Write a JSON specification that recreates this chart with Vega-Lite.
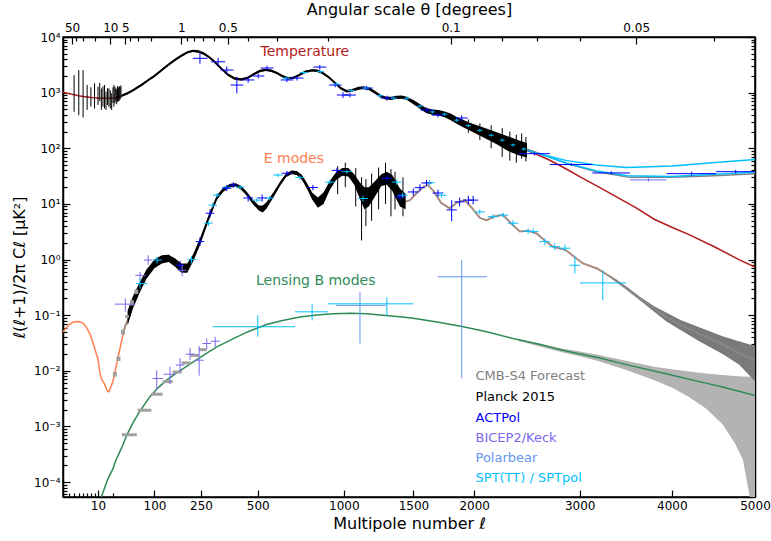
{
"$schema":"https://vega.github.io/schema/vega-lite/v6.json",
"width":692,"height":460,
"autosize":"none",
"padding":{"left":63,"top":37,"right":16,"bottom":44},
"config":{"font":"DejaVu Sans","view":{"stroke":"#000","strokeWidth":1.5},
"axis":{"grid":false,"labelFlush":false,"domainColor":"#000","domainWidth":1.5,"tickColor":"#000","tickWidth":1.2,"labelColor":"#000","titleColor":"#000","labelFont":"DejaVu Sans","titleFont":"DejaVu Sans","labelFontSize":12,"titleFontSize":16,"titleFontWeight":"normal"}},
"datasets":{
"theory":[
{"s":"TT","ell":2,"v":1020},{"s":"TT","ell":3,"v":960},{"s":"TT","ell":4,"v":920},{"s":"TT","ell":5,"v":880},{"s":"TT","ell":6,"v":850},{"s":"TT","ell":8,"v":820},{"s":"TT","ell":10,"v":800},{"s":"TT","ell":13,"v":790},{"s":"TT","ell":16,"v":790},{"s":"TT","ell":20,"v":800},{"s":"TT","ell":25,"v":830},{"s":"TT","ell":30,"v":880},{"s":"TT","ell":40,"v":980},{"s":"TT","ell":50,"v":1100},{"s":"TT","ell":60,"v":1250},{"s":"TT","ell":70,"v":1400},{"s":"TT","ell":85,"v":1700},{"s":"TT","ell":100,"v":2000},{"s":"TT","ell":120,"v":2550},{"s":"TT","ell":140,"v":3200},{"s":"TT","ell":160,"v":3900},{"s":"TT","ell":180,"v":4600},{"s":"TT","ell":200,"v":5300},{"s":"TT","ell":220,"v":5650},{"s":"TT","ell":240,"v":5500},{"s":"TT","ell":260,"v":5050},{"s":"TT","ell":280,"v":4400},{"s":"TT","ell":300,"v":3700},{"s":"TT","ell":330,"v":2750},{"s":"TT","ell":360,"v":2100},{"s":"TT","ell":390,"v":1800},{"s":"TT","ell":420,"v":1720},{"s":"TT","ell":450,"v":1850},{"s":"TT","ell":480,"v":2150},{"s":"TT","ell":510,"v":2450},{"s":"TT","ell":540,"v":2570},{"s":"TT","ell":570,"v":2480},{"s":"TT","ell":600,"v":2250},{"s":"TT","ell":630,"v":1980},{"s":"TT","ell":660,"v":1820},{"s":"TT","ell":690,"v":1850},{"s":"TT","ell":720,"v":2050},{"s":"TT","ell":760,"v":2380},{"s":"TT","ell":800,"v":2520},{"s":"TT","ell":830,"v":2480},{"s":"TT","ell":860,"v":2300},{"s":"TT","ell":900,"v":1920},{"s":"TT","ell":940,"v":1520},{"s":"TT","ell":980,"v":1200},{"s":"TT","ell":1020,"v":1060},{"s":"TT","ell":1060,"v":1110},{"s":"TT","ell":1100,"v":1200},{"s":"TT","ell":1130,"v":1230},{"s":"TT","ell":1170,"v":1180},{"s":"TT","ell":1210,"v":1030},{"s":"TT","ell":1250,"v":880},{"s":"TT","ell":1290,"v":800},{"s":"TT","ell":1330,"v":790},{"s":"TT","ell":1370,"v":820},{"s":"TT","ell":1410,"v":830},{"s":"TT","ell":1450,"v":790},{"s":"TT","ell":1500,"v":680},{"s":"TT","ell":1550,"v":570},{"s":"TT","ell":1600,"v":480},{"s":"TT","ell":1650,"v":450},{"s":"TT","ell":1700,"v":440},{"s":"TT","ell":1750,"v":410},{"s":"TT","ell":1800,"v":370},{"s":"TT","ell":1850,"v":320},{"s":"TT","ell":1900,"v":285},{"s":"TT","ell":1950,"v":255},{"s":"TT","ell":2000,"v":230},{"s":"TT","ell":2100,"v":190},{"s":"TT","ell":2200,"v":155},{"s":"TT","ell":2300,"v":125},{"s":"TT","ell":2400,"v":105},{"s":"TT","ell":2500,"v":88},{"s":"TT","ell":2600,"v":74},{"s":"TT","ell":2700,"v":61},{"s":"TT","ell":2800,"v":49},{"s":"TT","ell":2900,"v":39},{"s":"TT","ell":3000,"v":31},{"s":"TT","ell":3200,"v":20},{"s":"TT","ell":3400,"v":13},{"s":"TT","ell":3600,"v":8.5},{"s":"TT","ell":3800,"v":5.3},{"s":"TT","ell":4000,"v":3.8},{"s":"TT","ell":4200,"v":2.8},{"s":"TT","ell":4500,"v":1.7},{"s":"TT","ell":4800,"v":1.0},{"s":"TT","ell":5000,"v":0.73},
{"s":"EE","ell":2,"v":0.05},{"s":"EE","ell":3,"v":0.068},{"s":"EE","ell":4,"v":0.076},{"s":"EE","ell":5,"v":0.077},{"s":"EE","ell":6,"v":0.072},{"s":"EE","ell":7,"v":0.058},{"s":"EE","ell":8,"v":0.042},{"s":"EE","ell":9,"v":0.026},{"s":"EE","ell":10,"v":0.016},{"s":"EE","ell":11,"v":0.0095},{"s":"EE","ell":12,"v":0.0072},{"s":"EE","ell":14,"v":0.0058},{"s":"EE","ell":16,"v":0.0043},{"s":"EE","ell":17,"v":0.0042},{"s":"EE","ell":18,"v":0.0048},{"s":"EE","ell":20,"v":0.0065},{"s":"EE","ell":22,"v":0.0095},{"s":"EE","ell":25,"v":0.016},{"s":"EE","ell":28,"v":0.026},{"s":"EE","ell":32,"v":0.045},{"s":"EE","ell":36,"v":0.065},{"s":"EE","ell":44,"v":0.1},{"s":"EE","ell":51,"v":0.18},{"s":"EE","ell":65,"v":0.33},{"s":"EE","ell":75,"v":0.5},{"s":"EE","ell":88,"v":0.68},{"s":"EE","ell":100,"v":0.85},{"s":"EE","ell":115,"v":1.0},{"s":"EE","ell":130,"v":1.07},{"s":"EE","ell":144,"v":1.05},{"s":"EE","ell":165,"v":0.85},{"s":"EE","ell":185,"v":0.68},{"s":"EE","ell":200,"v":0.7},{"s":"EE","ell":215,"v":0.95},{"s":"EE","ell":230,"v":1.35},{"s":"EE","ell":246,"v":2.1},{"s":"EE","ell":262,"v":3.4},{"s":"EE","ell":279,"v":5.5},{"s":"EE","ell":296,"v":8.8},{"s":"EE","ell":313,"v":13},{"s":"EE","ell":340,"v":18},{"s":"EE","ell":370,"v":21.5},{"s":"EE","ell":395,"v":22},{"s":"EE","ell":420,"v":19.5},{"s":"EE","ell":445,"v":15.5},{"s":"EE","ell":475,"v":11},{"s":"EE","ell":505,"v":8.5},{"s":"EE","ell":525,"v":8.2},{"s":"EE","ell":545,"v":9.5},{"s":"EE","ell":580,"v":14.5},{"s":"EE","ell":620,"v":24},{"s":"EE","ell":650,"v":33},{"s":"EE","ell":680,"v":37},{"s":"EE","ell":710,"v":36},{"s":"EE","ell":740,"v":30},{"s":"EE","ell":770,"v":21},{"s":"EE","ell":800,"v":14},{"s":"EE","ell":835,"v":10.8},{"s":"EE","ell":870,"v":13},{"s":"EE","ell":910,"v":22},{"s":"EE","ell":950,"v":32},{"s":"EE","ell":990,"v":38},{"s":"EE","ell":1030,"v":37},{"s":"EE","ell":1070,"v":28},{"s":"EE","ell":1110,"v":17},{"s":"EE","ell":1140,"v":12.5},{"s":"EE","ell":1170,"v":12.5},{"s":"EE","ell":1210,"v":18},{"s":"EE","ell":1260,"v":27},{"s":"EE","ell":1300,"v":30},{"s":"EE","ell":1340,"v":25},{"s":"EE","ell":1397,"v":13.5},{"s":"EE","ell":1440,"v":11},{"s":"EE","ell":1474,"v":11.7},{"s":"EE","ell":1530,"v":16},{"s":"EE","ell":1580,"v":20.5},{"s":"EE","ell":1615,"v":21.8},{"s":"EE","ell":1660,"v":17},{"s":"EE","ell":1720,"v":10.5},{"s":"EE","ell":1792,"v":8.3},{"s":"EE","ell":1850,"v":10.5},{"s":"EE","ell":1919,"v":11.7},{"s":"EE","ell":1980,"v":8.5},{"s":"EE","ell":2050,"v":5.6},{"s":"EE","ell":2109,"v":5.1},{"s":"EE","ell":2180,"v":6},{"s":"EE","ell":2258,"v":6.3},{"s":"EE","ell":2330,"v":4.5},{"s":"EE","ell":2413,"v":3.2},{"s":"EE","ell":2490,"v":3.3},{"s":"EE","ell":2572,"v":2.95},{"s":"EE","ell":2650,"v":2.2},{"s":"EE","ell":2733,"v":1.7},{"s":"EE","ell":2860,"v":1.48},{"s":"EE","ell":2950,"v":1.1},{"s":"EE","ell":3035,"v":0.85},{"s":"EE","ell":3180,"v":0.69},{"s":"EE","ell":3385,"v":0.42},{"s":"EE","ell":3500,"v":0.3},{"s":"EE","ell":3640,"v":0.2},{"s":"EE","ell":3800,"v":0.13},{"s":"EE","ell":3935,"v":0.093},{"s":"EE","ell":4100,"v":0.068},{"s":"EE","ell":4320,"v":0.046},{"s":"EE","ell":4600,"v":0.03},{"s":"EE","ell":4800,"v":0.021},{"s":"EE","ell":5000,"v":0.0155},
{"s":"BB","ell":10,"v":0.000038},{"s":"BB","ell":13,"v":0.000065},{"s":"BB","ell":16,"v":0.00011},{"s":"BB","ell":20,"v":0.000175},{"s":"BB","ell":23,"v":0.000245},{"s":"BB","ell":30,"v":0.00042},{"s":"BB","ell":40,"v":0.00075},{"s":"BB","ell":51,"v":0.0012},{"s":"BB","ell":65,"v":0.0019},{"s":"BB","ell":88,"v":0.0034},{"s":"BB","ell":110,"v":0.005},{"s":"BB","ell":134,"v":0.0068},{"s":"BB","ell":160,"v":0.0088},{"s":"BB","ell":186,"v":0.011},{"s":"BB","ell":215,"v":0.0138},{"s":"BB","ell":246,"v":0.0172},{"s":"BB","ell":280,"v":0.022},{"s":"BB","ell":313,"v":0.027},{"s":"BB","ell":384,"v":0.038},{"s":"BB","ell":450,"v":0.05},{"s":"BB","ell":545,"v":0.068},{"s":"BB","ell":630,"v":0.08},{"s":"BB","ell":727,"v":0.093},{"s":"BB","ell":830,"v":0.101},{"s":"BB","ell":930,"v":0.106},{"s":"BB","ell":1050,"v":0.108},{"s":"BB","ell":1155,"v":0.106},{"s":"BB","ell":1270,"v":0.1},{"s":"BB","ell":1397,"v":0.094},{"s":"BB","ell":1499,"v":0.088},{"s":"BB","ell":1700,"v":0.075},{"s":"BB","ell":1906,"v":0.062},{"s":"BB","ell":2100,"v":0.051},{"s":"BB","ell":2349,"v":0.038},{"s":"BB","ell":2600,"v":0.03},{"s":"BB","ell":2830,"v":0.0234},{"s":"BB","ell":3000,"v":0.02},{"s":"BB","ell":3200,"v":0.0172},{"s":"BB","ell":3500,"v":0.0128},{"s":"BB","ell":3935,"v":0.0089},{"s":"BB","ell":4320,"v":0.0064},{"s":"BB","ell":4600,"v":0.0051},{"s":"BB","ell":5000,"v":0.0036}
],
"fg":[
{"s":"S4","id":"a","ell":2200,"v":155},{"s":"S4","id":"a","ell":2300,"v":128},{"s":"S4","id":"a","ell":2400,"v":108},{"s":"S4","id":"a","ell":2500,"v":93},{"s":"S4","id":"a","ell":2600,"v":81},{"s":"S4","id":"a","ell":2870,"v":53},{"s":"S4","id":"a","ell":3175,"v":38},{"s":"S4","id":"a","ell":3527,"v":30},{"s":"S4","id":"a","ell":4007,"v":30},{"s":"S4","id":"a","ell":4500,"v":32},{"s":"S4","id":"a","ell":5000,"v":35},
{"s":"SPT","id":"b","ell":2200,"v":160},{"s":"SPT","id":"b","ell":2300,"v":128},{"s":"SPT","id":"b","ell":2530,"v":86},{"s":"SPT","id":"b","ell":2870,"v":60},{"s":"SPT","id":"b","ell":3175,"v":50},{"s":"SPT","id":"b","ell":3490,"v":45},{"s":"SPT","id":"b","ell":4007,"v":48},{"s":"SPT","id":"b","ell":4476,"v":55},{"s":"SPT","id":"b","ell":5000,"v":63},
{"s":"SPT","id":"c","ell":2600,"v":80},{"s":"SPT","id":"c","ell":2870,"v":54},{"s":"SPT","id":"c","ell":3175,"v":39},{"s":"SPT","id":"c","ell":3500,"v":32},{"s":"SPT","id":"c","ell":4000,"v":31},{"s":"SPT","id":"c","ell":4500,"v":34},{"s":"SPT","id":"c","ell":5000,"v":37}
],
"s4bb":[
{"ell":2400,"lo":0.0345,"hi":0.0375},{"ell":2800,"lo":0.022,"hi":0.0255},{"ell":3000,"lo":0.0182,"hi":0.0222},{"ell":3200,"lo":0.0148,"hi":0.0193},{"ell":3500,"lo":0.0102,"hi":0.015},{"ell":3800,"lo":0.0068,"hi":0.0118},{"ell":4000,"lo":0.005,"hi":0.0107},{"ell":4200,"lo":0.0034,"hi":0.0097},{"ell":4400,"lo":0.0021,"hi":0.009},{"ell":4600,"lo":0.0011,"hi":0.0084},{"ell":4750,"lo":0.0005,"hi":0.0081},{"ell":4850,"lo":0.00025,"hi":0.0079},{"ell":4950,"lo":0.00004,"hi":0.0078},{"ell":5000,"lo":0.00004,"hi":0.0078}
],
"s4ee":[
{"ell":3300,"lo":0.5,"hi":0.53},{"ell":3500,"lo":0.28,"hi":0.32},{"ell":3640,"lo":0.185,"hi":0.215},{"ell":3800,"lo":0.115,"hi":0.145},{"ell":3935,"lo":0.078,"hi":0.112},{"ell":4100,"lo":0.054,"hi":0.082},{"ell":4320,"lo":0.034,"hi":0.061},{"ell":4600,"lo":0.02,"hi":0.042},{"ell":4800,"lo":0.013,"hi":0.034},{"ell":5000,"lo":0.0065,"hi":0.028}
],
"planckband":[
{"spec":"TT","ell":30,"lo":840,"hi":925},{"spec":"TT","ell":40,"lo":930,"hi":1030},{"spec":"TT","ell":50,"lo":1045,"hi":1155},{"spec":"TT","ell":60,"lo":1190,"hi":1310},{"spec":"TT","ell":70,"lo":1330,"hi":1470},{"spec":"TT","ell":85,"lo":1615,"hi":1785},{"spec":"TT","ell":100,"lo":1900,"hi":2100},{"spec":"TT","ell":120,"lo":2420,"hi":2680},{"spec":"TT","ell":140,"lo":3040,"hi":3360},{"spec":"TT","ell":160,"lo":3700,"hi":4100},{"spec":"TT","ell":180,"lo":4370,"hi":4830},{"spec":"TT","ell":200,"lo":5035,"hi":5565},{"spec":"TT","ell":220,"lo":5370,"hi":5930},{"spec":"TT","ell":240,"lo":5225,"hi":5775},{"spec":"TT","ell":260,"lo":4800,"hi":5300},{"spec":"TT","ell":280,"lo":4180,"hi":4620},{"spec":"TT","ell":300,"lo":3515,"hi":3885},{"spec":"TT","ell":330,"lo":2610,"hi":2890},{"spec":"TT","ell":360,"lo":1995,"hi":2205},{"spec":"TT","ell":390,"lo":1710,"hi":1890},{"spec":"TT","ell":420,"lo":1635,"hi":1805},{"spec":"TT","ell":450,"lo":1760,"hi":1940},{"spec":"TT","ell":480,"lo":2040,"hi":2260},{"spec":"TT","ell":510,"lo":2330,"hi":2570},{"spec":"TT","ell":540,"lo":2440,"hi":2700},{"spec":"TT","ell":570,"lo":2355,"hi":2605},{"spec":"TT","ell":600,"lo":2140,"hi":2360},{"spec":"TT","ell":630,"lo":1880,"hi":2080},{"spec":"TT","ell":660,"lo":1730,"hi":1910},{"spec":"TT","ell":690,"lo":1760,"hi":1940},{"spec":"TT","ell":720,"lo":1950,"hi":2150},{"spec":"TT","ell":760,"lo":2260,"hi":2500},{"spec":"TT","ell":800,"lo":2395,"hi":2645},{"spec":"TT","ell":830,"lo":2355,"hi":2605},{"spec":"TT","ell":860,"lo":2185,"hi":2415},{"spec":"TT","ell":900,"lo":1825,"hi":2015},{"spec":"TT","ell":940,"lo":1445,"hi":1595},{"spec":"TT","ell":980,"lo":1140,"hi":1260},{"spec":"TT","ell":1020,"lo":1005,"hi":1115},{"spec":"TT","ell":1060,"lo":1045,"hi":1175},{"spec":"TT","ell":1100,"lo":1130,"hi":1270},{"spec":"TT","ell":1130,"lo":1155,"hi":1305},{"spec":"TT","ell":1170,"lo":1110,"hi":1250},{"spec":"TT","ell":1210,"lo":965,"hi":1095},{"spec":"TT","ell":1250,"lo":825,"hi":935},{"spec":"TT","ell":1290,"lo":750,"hi":850},{"spec":"TT","ell":1330,"lo":740,"hi":840},{"spec":"TT","ell":1370,"lo":765,"hi":875},{"spec":"TT","ell":1410,"lo":775,"hi":885},{"spec":"TT","ell":1450,"lo":735,"hi":845},{"spec":"TT","ell":1500,"lo":620,"hi":740},{"spec":"TT","ell":1550,"lo":515,"hi":625},{"spec":"TT","ell":1600,"lo":430,"hi":530},{"spec":"TT","ell":1650,"lo":400,"hi":500},{"spec":"TT","ell":1700,"lo":390,"hi":490},{"spec":"TT","ell":1750,"lo":360,"hi":460},{"spec":"TT","ell":1800,"lo":320,"hi":420},{"spec":"TT","ell":1850,"lo":275,"hi":365},{"spec":"TT","ell":1900,"lo":240,"hi":330},{"spec":"TT","ell":1950,"lo":215,"hi":295},{"spec":"TT","ell":2000,"lo":190,"hi":270},{"spec":"TT","ell":2100,"lo":150,"hi":230},{"spec":"TT","ell":2200,"lo":118,"hi":195},{"spec":"TT","ell":2300,"lo":90,"hi":165},{"spec":"TT","ell":2400,"lo":75,"hi":140},{"spec":"TT","ell":2480,"lo":68,"hi":125},
{"spec":"EE","ell":40,"lo":0.065,"hi":0.12},{"spec":"EE","ell":50,"lo":0.13,"hi":0.22},{"spec":"EE","ell":65,"lo":0.26,"hi":0.4},{"spec":"EE","ell":80,"lo":0.45,"hi":0.66},{"spec":"EE","ell":100,"lo":0.7,"hi":1.0},{"spec":"EE","ell":120,"lo":0.85,"hi":1.2},{"spec":"EE","ell":140,"lo":0.9,"hi":1.22},{"spec":"EE","ell":160,"lo":0.74,"hi":1.04},{"spec":"EE","ell":180,"lo":0.58,"hi":0.85},{"spec":"EE","ell":200,"lo":0.58,"hi":0.85},{"spec":"EE","ell":220,"lo":0.9,"hi":1.22},{"spec":"EE","ell":246,"lo":1.8,"hi":2.4},{"spec":"EE","ell":279,"lo":4.9,"hi":6.2},{"spec":"EE","ell":313,"lo":11.8,"hi":14.3},{"spec":"EE","ell":340,"lo":16.5,"hi":19.5},{"spec":"EE","ell":370,"lo":20,"hi":23},{"spec":"EE","ell":395,"lo":20.5,"hi":23.5},{"spec":"EE","ell":420,"lo":18,"hi":21},{"spec":"EE","ell":445,"lo":14.2,"hi":16.8},{"spec":"EE","ell":475,"lo":10,"hi":12},{"spec":"EE","ell":505,"lo":7.6,"hi":9.4},{"spec":"EE","ell":525,"lo":7,"hi":9.4},{"spec":"EE","ell":545,"lo":8.3,"hi":10.8},{"spec":"EE","ell":580,"lo":13,"hi":16},{"spec":"EE","ell":620,"lo":22,"hi":26},{"spec":"EE","ell":650,"lo":30.5,"hi":35.5},{"spec":"EE","ell":680,"lo":34,"hi":40},{"spec":"EE","ell":710,"lo":33,"hi":39},{"spec":"EE","ell":740,"lo":27,"hi":33},{"spec":"EE","ell":770,"lo":18.5,"hi":23.5},{"spec":"EE","ell":800,"lo":12,"hi":16},{"spec":"EE","ell":835,"lo":8.5,"hi":13},{"spec":"EE","ell":870,"lo":10,"hi":16},{"spec":"EE","ell":910,"lo":18,"hi":26},{"spec":"EE","ell":950,"lo":27,"hi":37},{"spec":"EE","ell":990,"lo":32,"hi":44},{"spec":"EE","ell":1030,"lo":31,"hi":44},{"spec":"EE","ell":1070,"lo":22,"hi":34},{"spec":"EE","ell":1110,"lo":12,"hi":24},{"spec":"EE","ell":1140,"lo":8,"hi":20},{"spec":"EE","ell":1170,"lo":9,"hi":20},{"spec":"EE","ell":1210,"lo":13,"hi":25},{"spec":"EE","ell":1260,"lo":21,"hi":34},{"spec":"EE","ell":1300,"lo":22,"hi":38},{"spec":"EE","ell":1340,"lo":17,"hi":33},{"spec":"EE","ell":1397,"lo":9,"hi":19},{"spec":"EE","ell":1440,"lo":8,"hi":15}
],
"planckbars":[
{"ell":4,"lo":454,"hi":2074},{"ell":5,"lo":395,"hi":2547},{"ell":6,"lo":360,"hi":2547},{"ell":7,"lo":490,"hi":1370},{"ell":8,"lo":560,"hi":1250},{"ell":9,"lo":520,"hi":1470},{"ell":10,"lo":600,"hi":1280},{"ell":11,"lo":700,"hi":1500},{"ell":12,"lo":490,"hi":1190},{"ell":13,"lo":560,"hi":1300},{"ell":14,"lo":520,"hi":1370},{"ell":15,"lo":490,"hi":1040},{"ell":16,"lo":600,"hi":1200},{"ell":17,"lo":560,"hi":1190},{"ell":18,"lo":520,"hi":1100},{"ell":19,"lo":490,"hi":970},{"ell":20,"lo":650,"hi":1250},{"ell":21,"lo":560,"hi":1370},{"ell":22,"lo":640,"hi":1280},{"ell":23,"lo":700,"hi":1200},{"ell":24,"lo":620,"hi":1150},{"ell":25,"lo":680,"hi":1300},{"ell":26,"lo":700,"hi":1250},{"ell":27,"lo":720,"hi":1300},{"ell":28,"lo":750,"hi":1280},{"ell":29,"lo":800,"hi":1350},
{"ell":1950,"lo":190,"hi":330},{"ell":2050,"lo":140,"hi":280},{"ell":2150,"lo":100,"hi":260},{"ell":2250,"lo":70,"hi":230},{"ell":2320,"lo":60,"hi":200},{"ell":2380,"lo":55,"hi":175},{"ell":2430,"lo":65,"hi":185},{"ell":2470,"lo":58,"hi":160},
{"ell":960,"lo":15,"hi":48},{"ell":1010,"lo":20,"hi":55},{"ell":1080,"lo":9,"hi":44},{"ell":1120,"lo":2.2,"hi":30},{"ell":1150,"lo":4,"hi":28},{"ell":1190,"lo":5,"hi":35},{"ell":1240,"lo":8,"hi":45},{"ell":1290,"lo":10,"hi":55},{"ell":1330,"lo":6,"hi":42},{"ell":1360,"lo":8,"hi":38},{"ell":1420,"lo":6,"hi":30}
],
"s4lowee":[
{"ell":22,"lo":0.0079,"hi":0.0095},{"ell":26,"lo":0.015,"hi":0.018},{"ell":32,"lo":0.045,"hi":0.055},{"ell":39,"lo":0.09,"hi":0.1},{"ell":48,"lo":0.15,"hi":0.186},{"ell":57,"lo":0.24,"hi":0.29}
],
"s4lowbb":[
{"elo":30,"ehi":58,"v":0.00071},{"elo":60,"ehi":92,"v":0.00196},{"elo":92,"ehi":122,"v":0.0038},{"elo":123,"ehi":152,"v":0.0064},{"elo":152,"ehi":181,"v":0.0095},{"elo":181,"ehi":212,"v":0.0139},{"elo":212,"ehi":242,"v":0.019},{"elo":242,"ehi":272,"v":0.024}
],
"xp":[
{"s":"ACTPol","ell":246,"v":4140,"elo":220,"ehi":275,"vlo":3300,"vhi":5150},
{"s":"ACTPol","ell":318,"v":3590,"elo":290,"ehi":348,"vlo":3000,"vhi":4200},
{"s":"ACTPol","ell":355,"v":2550,"elo":328,"ehi":385,"vlo":2200,"vhi":2950},
{"s":"ACTPol","ell":400,"v":1370,"elo":372,"ehi":430,"vlo":970,"vhi":1930},
{"s":"ACTPol","ell":453,"v":1690,"elo":425,"ehi":483,"vlo":1500,"vhi":1900},
{"s":"ACTPol","ell":502,"v":1990,"elo":472,"ehi":533,"vlo":1800,"vhi":2200},
{"s":"ACTPol","ell":547,"v":2770,"elo":515,"ehi":580,"vlo":2500,"vhi":3050},
{"s":"ACTPol","ell":654,"v":1690,"elo":620,"ehi":690,"vlo":1550,"vhi":1850},
{"s":"ACTPol","ell":711,"v":1830,"elo":675,"ehi":748,"vlo":1650,"vhi":2000},
{"s":"ACTPol","ell":847,"v":2880,"elo":808,"ehi":888,"vlo":2600,"vhi":3150},
{"s":"ACTPol","ell":944,"v":1370,"elo":905,"ehi":985,"vlo":1250,"vhi":1500},
{"s":"ACTPol","ell":995,"v":906,"elo":955,"ehi":1035,"vlo":800,"vhi":1020},
{"s":"ACTPol","ell":1041,"v":906,"elo":1000,"ehi":1082,"vlo":820,"vhi":1000},
{"s":"ACTPol","ell":1155,"v":1210,"elo":1112,"ehi":1198,"vlo":1100,"vhi":1330},
{"s":"ACTPol","ell":1300,"v":800,"elo":1255,"ehi":1345,"vlo":720,"vhi":880},
{"s":"ACTPol","ell":1605,"v":486,"elo":1555,"ehi":1655,"vlo":440,"vhi":540},
{"s":"ACTPol","ell":1695,"v":395,"elo":1645,"ehi":1745,"vlo":360,"vhi":430},
{"s":"ACTPol","ell":1893,"v":350,"elo":1843,"ehi":1943,"vlo":310,"vhi":390},
{"s":"ACTPol","ell":2550,"v":80,"elo":2400,"ehi":2700,"vlo":74,"vhi":86},
{"s":"ACTPol","ell":2915,"v":51,"elo":2700,"ehi":3130,"vlo":48,"vhi":54},
{"s":"ACTPol","ell":3330,"v":36,"elo":3130,"ehi":3530,"vlo":34,"vhi":38.5},
{"s":"BICEP","ell":3735,"v":27,"elo":3530,"ehi":3940,"vlo":25,"vhi":29},
{"s":"ACTPol","ell":4230,"v":35,"elo":3940,"ehi":4520,"vlo":32,"vhi":38},
{"s":"ACTPol","ell":4760,"v":38,"elo":4520,"ehi":5000,"vlo":35,"vhi":41},
{"s":"SPT","ell":650,"v":1830,"elo":628,"ehi":672,"vlo":1720,"vhi":1940},
{"s":"SPT","ell":750,"v":2300,"elo":728,"ehi":772,"vlo":2160,"vhi":2440},
{"s":"SPT","ell":850,"v":2380,"elo":828,"ehi":872,"vlo":2240,"vhi":2520},
{"s":"SPT","ell":950,"v":1420,"elo":928,"ehi":972,"vlo":1340,"vhi":1500},
{"s":"SPT","ell":1050,"v":1090,"elo":1028,"ehi":1072,"vlo":1030,"vhi":1150},
{"s":"SPT","ell":1150,"v":1210,"elo":1128,"ehi":1172,"vlo":1140,"vhi":1280},
{"s":"SPT","ell":1250,"v":880,"elo":1228,"ehi":1272,"vlo":830,"vhi":930},
{"s":"SPT","ell":1350,"v":800,"elo":1328,"ehi":1372,"vlo":750,"vhi":850},
{"s":"SPT","ell":1450,"v":790,"elo":1428,"ehi":1472,"vlo":740,"vhi":840},
{"s":"SPT","ell":1550,"v":570,"elo":1528,"ehi":1572,"vlo":535,"vhi":605},
{"s":"SPT","ell":1650,"v":450,"elo":1628,"ehi":1672,"vlo":423,"vhi":477},
{"s":"SPT","ell":1750,"v":410,"elo":1728,"ehi":1772,"vlo":385,"vhi":435},
{"s":"SPT","ell":1850,"v":320,"elo":1828,"ehi":1872,"vlo":300,"vhi":340},
{"s":"SPT","ell":1950,"v":255,"elo":1928,"ehi":1972,"vlo":240,"vhi":270},
{"s":"SPT","ell":2050,"v":210,"elo":2028,"ehi":2072,"vlo":197,"vhi":223},
{"s":"SPT","ell":2150,"v":172,"elo":2128,"ehi":2172,"vlo":162,"vhi":182},
{"s":"SPT","ell":2250,"v":140,"elo":2228,"ehi":2272,"vlo":131,"vhi":149},
{"s":"SPT","ell":2350,"v":115,"elo":2328,"ehi":2372,"vlo":108,"vhi":122},
{"s":"SPT","ell":2450,"v":97,"elo":2428,"ehi":2472,"vlo":91,"vhi":103},
{"s":"BICEP","ell":36,"v":0.158,"elo":22,"ehi":55,"vlo":0.115,"vhi":0.2},
{"s":"BICEP","ell":65,"v":0.52,"elo":55,"ehi":78,"vlo":0.43,"vhi":0.6},
{"s":"BICEP","ell":84,"v":0.98,"elo":74,"ehi":95,"vlo":0.8,"vhi":1.2},
{"s":"BICEP","ell":183,"v":0.64,"elo":168,"ehi":198,"vlo":0.5,"vhi":0.8},
{"s":"SPT","ell":65,"v":0.37,"elo":56,"ehi":82,"vlo":0.3,"vhi":0.45},
{"s":"SPT","ell":107,"v":0.98,"elo":96,"ehi":120,"vlo":0.85,"vhi":1.12},
{"s":"SPT","ell":215,"v":1.0,"elo":200,"ehi":232,"vlo":0.85,"vhi":1.15},
{"s":"SPT","ell":279,"v":4.5,"elo":262,"ehi":296,"vlo":4.0,"vhi":5.0},
{"s":"SPT","ell":296,"v":9.5,"elo":280,"ehi":313,"vlo":8.6,"vhi":10.5},
{"s":"SPT","ell":313,"v":14.3,"elo":297,"ehi":330,"vlo":13,"vhi":15.7},
{"s":"SPT","ell":354,"v":20,"elo":335,"ehi":374,"vlo":18.5,"vhi":21.5},
{"s":"SPT","ell":415,"v":20,"elo":395,"ehi":436,"vlo":18.5,"vhi":21.5},
{"s":"SPT","ell":495,"v":11.7,"elo":472,"ehi":518,"vlo":10.7,"vhi":12.7},
{"s":"SPT","ell":561,"v":12.8,"elo":537,"ehi":585,"vlo":11.7,"vhi":14},
{"s":"SPT","ell":605,"v":33,"elo":580,"ehi":630,"vlo":30.5,"vhi":35.5},
{"s":"SPT","ell":727,"v":30,"elo":700,"ehi":755,"vlo":27.5,"vhi":32.5},
{"s":"SPT","ell":910,"v":24.6,"elo":880,"ehi":940,"vlo":22.5,"vhi":27},
{"s":"SPT","ell":1020,"v":38,"elo":988,"ehi":1052,"vlo":35,"vhi":41},
{"s":"SPT","ell":1130,"v":12.5,"elo":1095,"ehi":1165,"vlo":11,"vhi":14},
{"s":"SPT","ell":1373,"v":24.6,"elo":1335,"ehi":1410,"vlo":22,"vhi":27.5},
{"s":"SPT","ell":1418,"v":14.3,"elo":1380,"ehi":1456,"vlo":12.8,"vhi":16},
{"s":"SPT","ell":1628,"v":24,"elo":1588,"ehi":1668,"vlo":21.5,"vhi":26.5},
{"s":"SPT","ell":1725,"v":14.3,"elo":1685,"ehi":1765,"vlo":12.8,"vhi":16},
{"s":"SPT","ell":2049,"v":7.2,"elo":2005,"ehi":2093,"vlo":6.5,"vhi":8},
{"s":"SPT","ell":2166,"v":5.9,"elo":2120,"ehi":2212,"vlo":5.3,"vhi":6.6},
{"s":"SPT","ell":2258,"v":6.3,"elo":2212,"ehi":2304,"vlo":5.7,"vhi":7},
{"s":"SPT","ell":2349,"v":4.5,"elo":2300,"ehi":2398,"vlo":4.0,"vhi":5.1},
{"s":"SPT","ell":2491,"v":3.2,"elo":2440,"ehi":2540,"vlo":2.9,"vhi":3.6},
{"s":"SPT","ell":2540,"v":3.2,"elo":2490,"ehi":2590,"vlo":2.9,"vhi":3.6},
{"s":"SPT","ell":2652,"v":2.1,"elo":2600,"ehi":2704,"vlo":1.8,"vhi":2.4},
{"s":"SPT","ell":2748,"v":1.7,"elo":2694,"ehi":2802,"vlo":1.5,"vhi":1.95},
{"s":"SPT","ell":2851,"v":1.6,"elo":2796,"ehi":2906,"vlo":1.4,"vhi":1.85},
{"s":"SPT","ell":2951,"v":0.79,"elo":2895,"ehi":3007,"vlo":0.56,"vhi":1.13},
{"s":"SPT","ell":3240,"v":0.38,"elo":3003,"ehi":3490,"vlo":0.186,"vhi":0.64},
{"s":"ACTPol","ell":176,"v":0.79,"elo":163,"ehi":190,"vlo":0.65,"vhi":0.95},
{"s":"ACTPol","ell":246,"v":2.1,"elo":230,"ehi":262,"vlo":1.75,"vhi":2.5},
{"s":"ACTPol","ell":285,"v":6.8,"elo":268,"ehi":302,"vlo":5.8,"vhi":8},
{"s":"ACTPol","ell":355,"v":19.2,"elo":335,"ehi":375,"vlo":17,"vhi":21.5},
{"s":"ACTPol","ell":384,"v":21.8,"elo":364,"ehi":404,"vlo":19.5,"vhi":24.5},
{"s":"ACTPol","ell":453,"v":12.8,"elo":430,"ehi":476,"vlo":11,"vhi":14.8},
{"s":"ACTPol","ell":522,"v":12.8,"elo":498,"ehi":546,"vlo":11,"vhi":14.8},
{"s":"ACTPol","ell":654,"v":35.6,"elo":625,"ehi":683,"vlo":32,"vhi":39.5},
{"s":"ACTPol","ell":805,"v":19.7,"elo":775,"ehi":835,"vlo":17.5,"vhi":22},
{"s":"ACTPol","ell":955,"v":40,"elo":922,"ehi":988,"vlo":36,"vhi":44},
{"s":"ACTPol","ell":1300,"v":29,"elo":1262,"ehi":1338,"vlo":25.5,"vhi":33},
{"s":"ACTPol","ell":1397,"v":13.4,"elo":1357,"ehi":1437,"vlo":11.5,"vhi":15.5},
{"s":"ACTPol","ell":1499,"v":16.4,"elo":1458,"ehi":1540,"vlo":14,"vhi":19},
{"s":"ACTPol","ell":1551,"v":19.6,"elo":1510,"ehi":1592,"vlo":17,"vhi":22.5},
{"s":"ACTPol","ell":1603,"v":23.8,"elo":1562,"ehi":1644,"vlo":21,"vhi":27},
{"s":"ACTPol","ell":1695,"v":15.7,"elo":1652,"ehi":1738,"vlo":13.5,"vhi":18},
{"s":"ACTPol","ell":1808,"v":7.8,"elo":1765,"ehi":1851,"vlo":4.9,"vhi":11.7},
{"s":"ACTPol","ell":1875,"v":10.9,"elo":1832,"ehi":1918,"vlo":9,"vhi":13},
{"s":"ACTPol","ell":1950,"v":11.7,"elo":1905,"ehi":1995,"vlo":9.8,"vhi":14},
{"s":"ACTPol","ell":1991,"v":11.7,"elo":1946,"ehi":2036,"vlo":9.8,"vhi":14},
{"s":"BICEP","ell":106,"v":0.0073,"elo":95,"ehi":123,"vlo":0.0045,"vhi":0.0102},
{"s":"BICEP","ell":144,"v":0.0087,"elo":125,"ehi":160,"vlo":0.0058,"vhi":0.0118},
{"s":"BICEP","ell":176,"v":0.0127,"elo":162,"ehi":190,"vlo":0.0094,"vhi":0.0168},
{"s":"BICEP","ell":210,"v":0.0199,"elo":195,"ehi":226,"vlo":0.0155,"vhi":0.026},
{"s":"BICEP","ell":243,"v":0.0155,"elo":226,"ehi":260,"vlo":0.0082,"vhi":0.028},
{"s":"BICEP","ell":272,"v":0.031,"elo":255,"ehi":290,"vlo":0.024,"vhi":0.038},
{"s":"BICEP","ell":306,"v":0.034,"elo":288,"ehi":324,"vlo":0.027,"vhi":0.041},
{"s":"Polarbear","ell":1893,"v":0.49,"elo":1695,"ehi":2112,"vlo":0.0074,"vhi":0.98},
{"s":"Polarbear","ell":1109,"v":0.15,"elo":950,"ehi":1290,"vlo":0.031,"vhi":0.26},
{"s":"SPT","ell":500,"v":0.062,"elo":296,"ehi":700,"vlo":0.041,"vhi":0.1},
{"s":"SPT","ell":800,"v":0.115,"elo":700,"ehi":897,"vlo":0.08,"vhi":0.16},
{"s":"SPT","ell":1300,"v":0.16,"elo":897,"ehi":1499,"vlo":0.1,"vhi":0.21}
],
"ann":[
{"s":"TT","t":"Temperature","ell":757,"v":5370},
{"s":"EE","t":"E modes","ell":693,"v":64},
{"s":"BB","t":"Lensing B modes","ell":822,"v":0.41}
],
"leg":[
{"s":"S4","t":"CMB-S4 Forecast","ell":2012,"v":0.008},
{"s":"Planck","t":"Planck 2015","ell":2012,"v":0.00335},
{"s":"ACTPol","t":"ACTPol","ell":2012,"v":0.0014},
{"s":"BICEP","t":"BICEP2/Keck","ell":2012,"v":0.000613},
{"s":"Polarbear","t":"Polarbear","ell":2012,"v":0.000268},
{"s":"SPT","t":"SPT(TT) / SPTpol","ell":2012,"v":0.000117}
]
},
"resolve":{"axis":{"x":"independent","y":"independent"}},
"layer":[
{"data":{"name":"s4bb"},"mark":{"type":"area","color":"#b3b3b3","clip":true},
"encoding":{"x":{"field":"ell","type":"quantitative","axis":null,"scale":{"type":"pow","exponent":0.6,"domain":[2,10,20,30,5000],"range":[0,35,50,58.8,692],"nice":false,"zero":false}},
"y":{"field":"lo","type":"quantitative","axis":null,"scale":{"type":"log","domain":[0.000054,10000],"nice":false}},"y2":{"field":"hi"}}},
{"data":{"name":"theory"},"mark":{"type":"line","strokeWidth":1.5,"clip":true},
"encoding":{"x":{"field":"ell","type":"quantitative","axis":{"orient":"bottom","title":"Multipole number ℓ","values":[3,4,5,6,7,8,9,10,20,100,250,500,1000,1500,2000,3000,4000,5000],"format":"d","labelExpr":"indexof([10,100,250,500,1000,1500,2000,3000,4000,5000], datum.value) >= 0 ? datum.label : ''","tickSize":{"condition":{"test":"indexof([10,100,250,500,1000,1500,2000,3000,4000,5000], datum.value) >= 0","value":-7},"value":-4},"labelPadding":10,"titlePadding":4}},
"y":{"field":"v","type":"quantitative","axis":{"orient":"left","title":"ℓ(ℓ+1)/2π Cℓ [μK²]","values":[0.00006,0.00007,0.00008,0.00009,0.0001,0.0002,0.0003,0.0004,0.0005,0.0006,0.0007,0.0008,0.0009,0.001,0.002,0.003,0.004,0.005,0.006,0.007,0.008,0.009,0.01,0.02,0.03,0.04,0.05,0.06,0.07,0.08,0.09,0.1,0.2,0.3,0.4,0.5,0.6,0.7,0.8,0.9,1,2,3,4,5,6,7,8,9,10,20,30,40,50,60,70,80,90,100,200,300,400,500,600,700,800,900,1000,2000,3000,4000,5000,6000,7000,8000,9000,10000],"labelExpr":"datum.value == 10000 ? '10⁴' : datum.value == 1000 ? '10³' : datum.value == 100 ? '10²' : datum.value == 10 ? '10¹' : datum.value == 1 ? '10⁰' : datum.value == 0.1 ? '10⁻¹' : datum.value == 0.01 ? '10⁻²' : datum.value == 0.001 ? '10⁻³' : datum.value == 0.0001 ? '10⁻⁴' : ''","tickSize":{"condition":{"test":"indexof([0.0001,0.001,0.01,0.1,1,10,100,1000,10000], datum.value) >= 0","value":-7},"value":-4},"labelPadding":10,"titlePadding":6}},
"color":{"field":"s","type":"nominal","legend":null,"scale":{"domain":["TT","EE","BB","S4","Planck","ACTPol","BICEP","Polarbear","SPT"],"range":["#b31b1b","#ff7f50","#2e8b57","#808080","#000000","#0000ff","#7b68ee","#6495ed","#00bfff"]}}}},
{"data":{"name":"s4ee"},"mark":{"type":"area","color":"#7a7a7a","clip":true},
"encoding":{"x":{"field":"ell","type":"quantitative","axis":null},"y":{"field":"lo","type":"quantitative","axis":null},"y2":{"field":"hi"}}},
{"data":{"name":"theory"},"transform":[{"filter":"datum.ell >= 30 && (datum.s == 'EE' || (datum.s == 'TT' && datum.ell <= 2200))"}],"mark":{"type":"line","strokeWidth":2,"color":"#8c8c8c","opacity":0.75,"clip":true},
"encoding":{"x":{"field":"ell","type":"quantitative","axis":null},"y":{"field":"v","type":"quantitative","axis":null},"detail":{"field":"s"}}},
{"data":{"name":"fg"},"mark":{"type":"line","strokeWidth":1.5,"clip":true},
"encoding":{"x":{"field":"ell","type":"quantitative","axis":null},"y":{"field":"v","type":"quantitative","axis":null},"detail":{"field":"id"},"color":{"field":"s","type":"nominal","legend":null}}},
{"data":{"name":"planckband"},"mark":{"type":"area","color":"#000000","clip":true},
"encoding":{"x":{"field":"ell","type":"quantitative","axis":{"orient":"top","title":"Angular scale θ [degrees]","values":[3.6,4.5,6,9,18,36,45,60,90,180,200,225,257.142857,300,360,450,600,900,1800,2000,2250,2571.428571,3000,3600,4500],"labelExpr":"indexof([3.6,18,36,180,360,1800,3600], datum.value) >= 0 ? toString(round(18000/datum.value)/100) : ''","tickSize":{"condition":{"test":"indexof([3.6,18,36,180,360,1800,3600], datum.value) >= 0","value":-7},"value":-4},"labelPadding":10,"titlePadding":4}},
"y":{"field":"lo","type":"quantitative","axis":{"orient":"right","title":null,"labels":false,"values":[0.00006,0.00007,0.00008,0.00009,0.0001,0.0002,0.0003,0.0004,0.0005,0.0006,0.0007,0.0008,0.0009,0.001,0.002,0.003,0.004,0.005,0.006,0.007,0.008,0.009,0.01,0.02,0.03,0.04,0.05,0.06,0.07,0.08,0.09,0.1,0.2,0.3,0.4,0.5,0.6,0.7,0.8,0.9,1,2,3,4,5,6,7,8,9,10,20,30,40,50,60,70,80,90,100,200,300,400,500,600,700,800,900,1000,2000,3000,4000,5000,6000,7000,8000,9000,10000],"tickSize":{"condition":{"test":"indexof([0.0001,0.001,0.01,0.1,1,10,100,1000,10000], datum.value) >= 0","value":-7},"value":-4}}},
"y2":{"field":"hi"},"detail":{"field":"spec"}}},
{"data":{"name":"planckbars"},"mark":{"type":"rule","color":"#000000","strokeWidth":1,"clip":true},
"encoding":{"x":{"field":"ell","type":"quantitative","axis":null},"y":{"field":"lo","type":"quantitative","axis":null},"y2":{"field":"hi"}}},
{"data":{"name":"s4lowee"},"mark":{"type":"rule","color":"#a0a0a0","strokeWidth":4,"clip":true},
"encoding":{"x":{"field":"ell","type":"quantitative","axis":null},"y":{"field":"lo","type":"quantitative","axis":null},"y2":{"field":"hi"}}},
{"data":{"name":"s4lowbb"},"mark":{"type":"rule","color":"#a0a0a0","strokeWidth":3,"clip":true},
"encoding":{"x":{"field":"elo","type":"quantitative","axis":null},"x2":{"field":"ehi"},"y":{"field":"v","type":"quantitative","axis":null}}},
{"data":{"name":"xp"},"mark":{"type":"rule","strokeWidth":1,"clip":true},
"encoding":{"x":{"field":"elo","type":"quantitative","axis":null},"x2":{"field":"ehi"},"y":{"field":"v","type":"quantitative","axis":null},"color":{"field":"s","type":"nominal","legend":null}}},
{"data":{"name":"xp"},"mark":{"type":"rule","strokeWidth":1,"clip":true},
"encoding":{"x":{"field":"ell","type":"quantitative","axis":null},"y":{"field":"vlo","type":"quantitative","axis":null},"y2":{"field":"vhi"},"color":{"field":"s","type":"nominal","legend":null}}},
{"data":{"name":"ann"},"mark":{"type":"text","align":"center","baseline":"middle","fontSize":14},
"encoding":{"x":{"field":"ell","type":"quantitative","axis":null},"y":{"field":"v","type":"quantitative","axis":null},"text":{"field":"t"},"color":{"field":"s","type":"nominal","legend":null}}},
{"data":{"name":"leg"},"mark":{"type":"text","align":"left","baseline":"middle","fontSize":13},
"encoding":{"x":{"field":"ell","type":"quantitative","axis":null},"y":{"field":"v","type":"quantitative","axis":null},"text":{"field":"t"},"color":{"field":"s","type":"nominal","legend":null}}}
]
}
